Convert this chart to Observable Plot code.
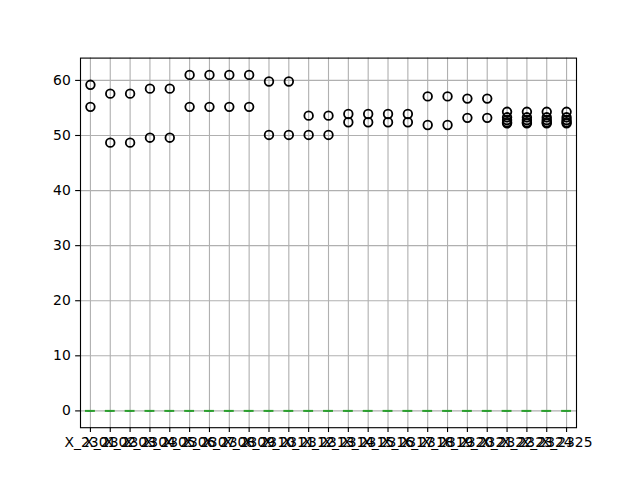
<!DOCTYPE html>
<html>
<head>
<meta charset="utf-8">
<script src="https://cdn.jsdelivr.net/npm/d3@7"></script>
<script src="https://cdn.jsdelivr.net/npm/@observablehq/plot@0.6"></script>
<style>
  html, body { margin: 0; padding: 0; background: white; }
</style>
</head>
<body>
<div id="chart"></div>
<script>
// ---- data ----
const columns = ["X_2301","X_2302","X_2303","X_2304","X_2305","X_2306","X_2307","X_2308","X_2309","X_2310",
                 "X_2311","X_2312","X_2313","X_2314","X_2315","X_2316","X_2317","X_2318","X_2319","X_2320",
                 "X_2321","X_2322","X_2323","X_2324","X_2325"];
// box statistics per column (all collapsed at 0)
const whiskerLow = [0,0,0,0,0,0,0,0,0,0,0,0,0,0,0,0,0,0,0,0,0,0,0,0,0];
const quartile1  = [0,0,0,0,0,0,0,0,0,0,0,0,0,0,0,0,0,0,0,0,0,0,0,0,0];
const medians    = [0,0,0,0,0,0,0,0,0,0,0,0,0,0,0,0,0,0,0,0,0,0,0,0,0];
const quartile3  = [0,0,0,0,0,0,0,0,0,0,0,0,0,0,0,0,0,0,0,0,0,0,0,0,0];
const whiskerHigh= [0,0,0,0,0,0,0,0,0,0,0,0,0,0,0,0,0,0,0,0,0,0,0,0,0];
// outliers (fliers) per column
const fliers = [
  [59.2, 55.2],
  [57.6, 48.7],
  [57.6, 48.7],
  [58.5, 49.6],
  [58.5, 49.6],
  [61.0, 55.2],
  [61.0, 55.2],
  [61.0, 55.2],
  [61.0, 55.2],
  [59.8, 50.1],
  [59.8, 50.1],
  [53.6, 50.1],
  [53.6, 50.1],
  [53.9, 52.4],
  [53.9, 52.4],
  [53.9, 52.4],
  [53.9, 52.4],
  [57.1, 51.9],
  [57.1, 51.9],
  [56.7, 53.2],
  [56.7, 53.2],
  [54.3, 53.3, 52.8, 52.4, 52.2],
  [54.3, 53.3, 52.8, 52.4, 52.2],
  [54.3, 53.3, 52.8, 52.4, 52.2],
  [54.3, 53.3, 52.8, 52.4, 52.2]
];
const yTicks = [0, 10, 20, 30, 40, 50, 60];

// ---- tables built from the arrays ----
const stats = columns.map((c, i) => ({
  col: c, lo: whiskerLow[i], q1: quartile1[i], med: medians[i], q3: quartile3[i], hi: whiskerHigh[i]
}));
const flierRows = columns.flatMap((c, i) => fliers[i].map(v => ({col: c, value: v})));

const allVals = flierRows.map(d => d.value).concat(whiskerLow, whiskerHigh);
const vmin = d3.min(allVals), vmax = d3.max(allVals);
const pad = 0.05 * (vmax - vmin);

const W = 640, H = 480;
const mL = 80, mR = 64, mT = 57.6, mB = 52.8;
const band = (W - mL - mR) / columns.length;
const boxInset = band * 0.25;     // box width 0.5
const capInset = band * 0.375;    // cap width 0.25
const px = 100 / 72;              // points -> pixels
const tickLen = 3.5 * px;

const chart = Plot.plot({
  width: W,
  height: H,
  marginLeft: mL,
  marginRight: mR,
  marginTop: mT,
  marginBottom: mB,
  style: {fontFamily: "DejaVu Sans", fontSize: "13.9px", background: "white", color: "black"},
  x: {type: "band", domain: columns, padding: 0, round: false, label: null},
  y: {domain: [vmin - pad, vmax + pad], label: null},
  marks: [
    Plot.gridX({stroke: "#b0b0b0", strokeOpacity: 1, strokeWidth: 0.8 * px}),
    Plot.gridY(yTicks, {stroke: "#b0b0b0", strokeOpacity: 1, strokeWidth: 0.8 * px}),
    // whiskers
    Plot.ruleX(stats, {x: "col", y1: "lo", y2: "q1", stroke: "#1f77b4", strokeWidth: px}),
    Plot.ruleX(stats, {x: "col", y1: "q3", y2: "hi", stroke: "#1f77b4", strokeWidth: px}),
    // caps
    Plot.tickY(stats, {x: "col", y: "lo", stroke: "#1f77b4", strokeWidth: px, insetLeft: capInset, insetRight: capInset}),
    Plot.tickY(stats, {x: "col", y: "hi", stroke: "#1f77b4", strokeWidth: px, insetLeft: capInset, insetRight: capInset}),
    // box
    Plot.rectY(stats, {x: "col", y1: "q1", y2: "q3", fill: "none", stroke: "#1f77b4", strokeWidth: px, insetLeft: boxInset, insetRight: boxInset}),
    // median
    Plot.tickY(stats, {x: "col", y: "med", stroke: "#2ca02c", strokeWidth: 2, insetLeft: boxInset, insetRight: boxInset}),
    // fliers
    Plot.dot(flierRows, {x: "col", y: "value", r: 4.3, stroke: "black", fill: "none", strokeWidth: 1.8}),
    Plot.frame({stroke: "black", strokeWidth: 0.8 * px}),
    Plot.axisY({ticks: yTicks, tickSize: tickLen, tickPadding: tickLen, label: null, tickFormat: d => String(d), strokeWidth: 0.8 * px, fill: "black"}),
    Plot.axisX({tickSize: tickLen, tickPadding: tickLen, label: null, strokeWidth: 0.8 * px, fill: "black"})
  ]
});
document.getElementById("chart").appendChild(chart);
</script>
</body>
</html>
